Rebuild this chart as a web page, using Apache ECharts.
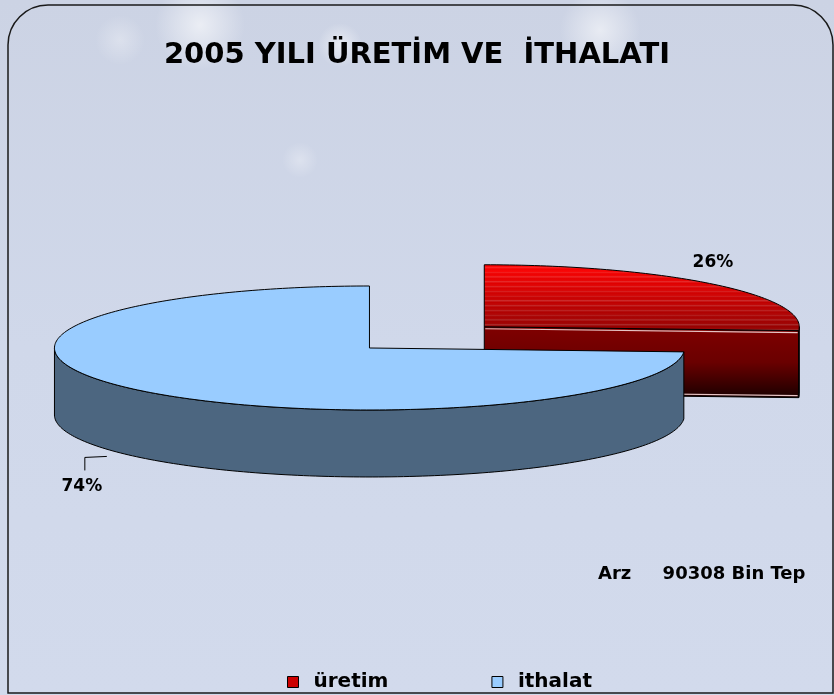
<!DOCTYPE html>
<html><head><meta charset="utf-8">
<script src="https://cdn.jsdelivr.net/npm/echarts@6/dist/echarts.min.js"></script>
<style>html,body{margin:0;padding:0;background:#d0d8ea}#c{width:834px;height:695px}</style>
</head><body><div id="c"></div>
<script>
// ---- data ----
const titleText = '2005 YILI ÜRETİM VE  İTHALATI';
const categories = ['üretim', 'ithalat'];
const shares = [26, 74];
const supplyLabel = 'Arz';
const supplyValue = 90308;
const supplyUnit = 'Bin Tep';

// ---- styles ----
const FONT = '"DejaVu Sans", Verdana, sans-serif';
const style = {
  explode: [0.5, 0],
  legendColor: ['#cc0000', '#99ccff'],
  top: [
    {type:'linear',x:0,y:0,x2:0,y2:1,colorStops:(function(){
      const s=[];const n=14;
      for(let k=0;k<n;k++){
        const t0=k/n, t1=(k+0.55)/n;
        const a=Math.round(255-110*t0);
        s.push({offset:t0,color:'rgb('+a+',0,0)'});
        s.push({offset:t1,color:'rgb('+a+',10,10)'});
        s.push({offset:Math.min(1,t1+0.001),color:'rgb('+Math.round(a*0.86+30)+',45,45)'});
      }
      s.push({offset:1,color:'rgb(140,0,0)'});
      return s;})()},
    '#99ccff'
  ],
  side: [
    {type:'linear',x:0,y:0,x2:0,y2:1,colorStops:[{offset:0,color:'#800000'},{offset:0.5,color:'#6a0000'},{offset:1,color:'#1a0000'}]},
    '#4c6680'
  ]
};

const total = shares.reduce((a,b)=>a+b,0);
function sliceAngles(i){
  let before = 0;
  for (let k=0;k<i;k++) before += shares[k];
  return [before/total*Math.PI*2, (before+shares[i])/total*Math.PI*2];
}

function makeRender(i){
  return function(params, api){
    const W = api.getWidth(), H = api.getHeight();
    const rx = W*0.3777, ry = H*0.0892, depth = H*0.0964;
    const ang = sliceAngles(i);
    const a0 = ang[0], a1 = ang[1], mid = (a0+a1)/2;
    const ex = style.explode[i]*rx;
    const cx = W*0.4430 + ex*Math.sin(mid);
    const cy = H*0.5007 - ex*Math.cos(mid)*ry/rx;
    const P = (a, dz)=>[cx + rx*Math.sin(a), cy - ry*Math.cos(a) + (dz||0)];
    const arc = (s, e, dz)=>{
      const pts=[]; const n=Math.max(4, Math.ceil((e-s)/0.02));
      for(let k=0;k<=n;k++) pts.push(P(s+(e-s)*k/n, dz));
      return pts;
    };
    const children = [];
    const strokeSt = {stroke:'#000', lineWidth:1};
    const cut = (a)=>{
      const r = P(a);
      children.push({type:'polygon', shape:{points:[[cx,cy],r,[r[0],r[1]+depth],[cx,cy+depth]]},
        style:Object.assign({fill: style.side[i]}, strokeSt)});
      if (i===0){
        children.push({type:'polyline', shape:{points:[[cx+1,cy+2],[r[0]-1,r[1]+2]]}, style:{fill:null, stroke:'#e6c4c4',lineWidth:1.2}});
        children.push({type:'polyline', shape:{points:[[cx+1,cy+depth-2],[r[0]-1,r[1]+depth-2]]}, style:{fill:null, stroke:'#e6c4c4',lineWidth:1.2}});
      }
    };
    if (Math.sin(a0) < -1e-6) cut(a0);
    if (Math.sin(a1) > 1e-6) cut(a1);
    const s = Math.max(a0, Math.PI/2), e = Math.min(a1, Math.PI*1.5);
    if (s < e){
      const pts = arc(s,e,0).concat(arc(s,e,depth).reverse());
      children.push({type:'polygon', shape:{points:pts}, style:Object.assign({fill: style.side[i]}, strokeSt)});
    }
    const topPts = [[cx,cy]].concat(arc(a0,a1,0));
    children.push({type:'polygon', shape:{points:topPts}, style:Object.assign({fill: style.top[i]}, strokeSt)});
    const pct = Math.round(api.value(0)/total*100) + '%';
    const lblStyle = {text:pct, font:'bold 17px '+FONT, fill:'#000', align:'center', verticalAlign:'middle'};
    if (i===0){
      const p = P(mid);
      children.push({type:'text', x:p[0]-1, y:p[1]-22, style:lblStyle});
    } else {
      const p = P(mid, depth);
      children.push({type:'polyline', shape:{points:[[p[0]-33,p[1]-1],[p[0]-55,p[1]],[p[0]-55,p[1]+13]]}, style:{fill:null, stroke:'#000',lineWidth:1}});
      children.push({type:'text', x:p[0]-58, y:p[1]+29, style:lblStyle});
    }
    return {type:'group', children:children};
  };
}

const cloud = (cx,cy,rx,ry,a)=>({type:'ellipse', z:-9, silent:true, shape:{cx:cx,cy:cy,rx:rx,ry:ry},
  style:{fill:{type:'radial',x:0.5,y:0.5,r:0.5,colorStops:[{offset:0,color:'rgba(255,255,255,'+a+')'},{offset:1,color:'rgba(255,255,255,0)'}]}}});

const chart = echarts.init(document.getElementById('c'), null, {renderer:'canvas'});
chart.setOption({
  backgroundColor:'#d0d8ea',
  animation:false,
  title:{text:titleText, left:'center', top:36,
    textStyle:{fontFamily:FONT, fontWeight:'bold', fontSize:29, color:'#000'}},
  legend:{left:287, top:672, padding:0, itemWidth:11, itemHeight:11, itemGap:103,
    data:categories.map((c,i)=>({name:c, icon:'rect', itemStyle:{color:style.legendColor[i], borderColor:'#000', borderWidth:1}})),
    textStyle:{fontFamily:FONT, fontWeight:'bold', fontSize:20, color:'#000', padding:[0,0,0,10]}},
  graphic:[
    {type:'rect', z:-10, silent:true, shape:{x:0,y:0,width:834,height:695},
      style:{fill:{type:'linear',x:0,y:0,x2:0,y2:1,colorStops:[{offset:0,color:'#ccd3e4'},{offset:0.5,color:'#d0d8ea'},{offset:1,color:'#d2daec'}]}}},
    cloud(200,25,45,50,0.6),
    cloud(340,45,22,75,0.55),
    cloud(600,30,40,60,0.55),
    cloud(120,40,50,25,0.3),
    cloud(300,160,18,50,0.3),
    {type:'rect', z:100, silent:true, shape:{x:8,y:5,width:825,height:688,r:[40,40,0,0]}, style:{fill:null, stroke:'#1a1a1a', lineWidth:1.5}},
    {type:'text', z:100, left:598, top:565, style:{text:supplyLabel+'     '+supplyValue+' '+supplyUnit, font:'bold 18px '+FONT, fill:'#000'}}
  ],
  series: categories.map((c,i)=>({
    type:'custom', name:c, coordinateSystem:'none', z:2+i,
    itemStyle:{color:style.legendColor[i]},
    data:[[shares[i]]],
    renderItem: makeRender(i)
  }))
});
</script></body></html>
